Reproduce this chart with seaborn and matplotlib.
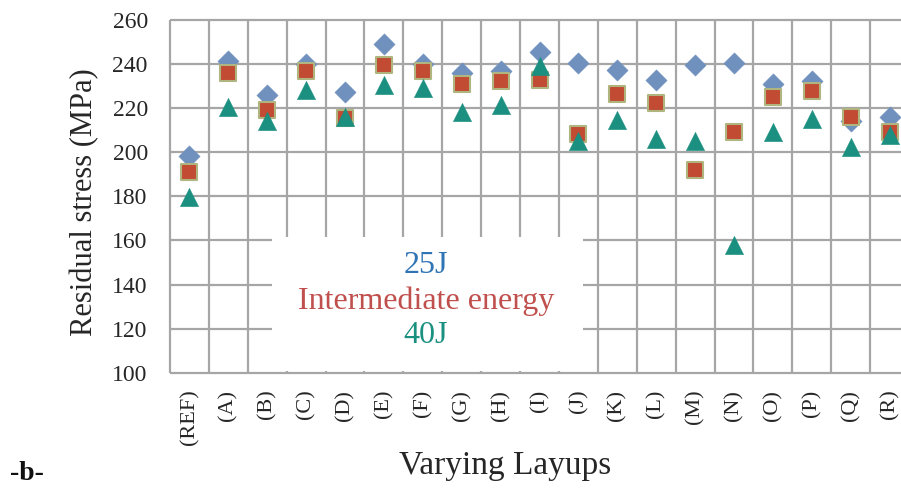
import matplotlib
matplotlib.use("Agg")
import matplotlib.pyplot as plt
import seaborn as sns
import pandas as pd
import numpy as np
from matplotlib.patches import Rectangle

# ---- data ----
categories = ["(REF)", "(A)", "(B)", "(C)", "(D)", "(E)", "(F)", "(G)", "(H)", "(I)",
              "(J)", "(K)", "(L)", "(M)", "(N)", "(O)", "(P)", "(Q)", "(R)"]
stress_25J = [198, 241, 226, 240, 227, 249, 240, 236, 236.5, 245.5,
              240.5, 237, 232.5, 239.5, 240.5, 231, 232, 214, 216]
stress_intermediate = [191, 236, 219, 236.5, 215.5, 239.5, 236.5, 231, 232, 232.5,
                       208, 226.5, 222, 192, 209, 225, 227.5, 216, 209]
stress_40J = [179.5, 220.5, 214, 228, 216, 230.5, 229, 218, 221.5, 239,
              205, 214.5, 206, 205, 158, 209, 215, 202.5, 207.5]
series_names = ["25J", "Intermediate energy", "40J"]
y_ticks = [100, 120, 140, 160, 180, 200, 220, 240, 260]

# ---- styling ----
sns.set_style("white")
plt.rcParams['font.family'] = ['Liberation Serif', 'DejaVu Serif']

grid_color = "#a6a6a6"
text_color = "#262626"
c_diamond = "#7090be"
c_square = "#c24b33"
c_square_edge = "#b0b57f"
c_triangle = "#1b8f80"
legend_colors = ["#2f74b5", "#c0504d", "#1a9080"]

df = pd.DataFrame({
    "Layup": categories * 3,
    "Stress": stress_25J + stress_intermediate + stress_40J,
    "Energy": [series_names[0]] * len(categories)
              + [series_names[1]] * len(categories)
              + [series_names[2]] * len(categories),
})

fig = plt.figure(figsize=(9.01, 4.88), dpi=100)
ax = fig.add_axes([170 / 901, 115 / 488, 739 / 901, 353.5 / 488])

n = len(categories)
boundaries = np.arange(n + 1) - 0.5

# grid lines (drawn under the text box)
ax.hlines(y_ticks, boundaries[0], boundaries[-1], colors=grid_color, lw=1.6,
          zorder=1, clip_on=False)
ax.vlines(boundaries, y_ticks[0], y_ticks[-1], colors=grid_color, lw=1.6,
          zorder=1, clip_on=False)

# white text box that hides the grid
ax.add_patch(Rectangle((0.138, 0.006), 0.421, 0.379, transform=ax.transAxes,
                       facecolor="white", edgecolor="none", zorder=2))

sns.scatterplot(data=df[df["Energy"] == series_names[0]], x="Layup", y="Stress",
                marker="D", s=118, color=c_diamond, edgecolor=c_diamond,
                linewidth=0.3, zorder=3, ax=ax, legend=False)
sns.scatterplot(data=df[df["Energy"] == series_names[1]], x="Layup", y="Stress",
                marker="s", s=132, color=c_square, edgecolor=c_square_edge,
                linewidth=1.5, zorder=4, ax=ax, legend=False)
sns.scatterplot(data=df[df["Energy"] == series_names[2]], x="Layup", y="Stress",
                marker="^", s=175, color=c_triangle, edgecolor=c_triangle,
                linewidth=0.3, zorder=5, ax=ax, legend=False)

ax.set_xlim(boundaries[0], boundaries[-1])
ax.set_ylim(y_ticks[0], y_ticks[-1])
ax.set_axisbelow(False)
for sp in ax.spines.values():
    sp.set_visible(False)

ax.set_xticks(range(n))
ax.set_xticklabels(categories, rotation=90, fontsize=16, color=text_color)
ax.set_xticks(boundaries, minor=True)
ax.tick_params(axis="x", which="major", length=0, pad=12)
ax.tick_params(axis="x", which="minor", direction="inout", length=15,
               width=1.6, color=grid_color)
ax.set_yticks(y_ticks)
ax.set_yticklabels([str(v) for v in y_ticks], fontsize=17, color=text_color)
ax.tick_params(axis="y", which="major", direction="out", length=5, width=1.6,
               color=grid_color, pad=11)
ax.tick_params(axis="y", which="minor", length=0)

ax.set_xlabel("Varying Layups", fontsize=24, color=text_color, va="center")
ax.xaxis.set_label_coords((505 - 170) / 739, (373 - 466) / 353.5)
ax.set_ylabel("Residual stress (MPa)", fontsize=22, color=text_color, va="center")
ax.yaxis.set_label_coords((85 - 170) / 739, (373 - 202) / 353.5)

# coloured text legend
legend_y = [0.3055, 0.2037, 0.1047]
for name, col, yy in zip(series_names, legend_colors, legend_y):
    ax.text(0.346, yy, name, transform=ax.transAxes, ha="center", va="center",
            fontsize=23, color=col, zorder=6)

fig.text(10 / 901, 1 - 480 / 488, "-b-", fontsize=20, fontweight="bold",
         ha="left", va="baseline", color="#111111")

fig.savefig("out.png", dpi=100)
